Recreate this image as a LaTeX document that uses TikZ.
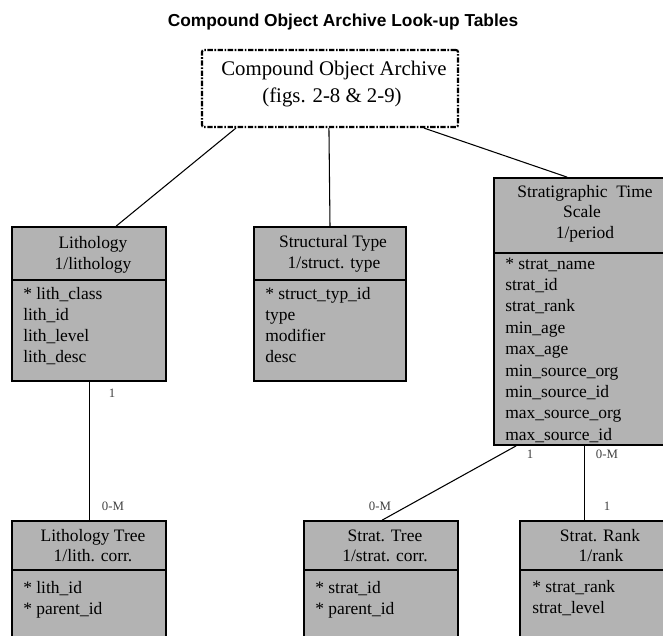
\documentclass[tikz,border=0pt]{standalone}
\usepackage{fontspec}
\setmainfont{Liberation Serif}
\newfontfamily\titlefont{Liberation Sans}
\usetikzlibrary{calc,fit}

\definecolor{boxgray}{RGB}{179,179,179}

\tikzset{
  entity/.style={draw=black, line width=1.3pt, fill=boxgray, inner sep=0pt},
  archive/.style={draw=black, line width=1.6pt, rounded corners=1.5pt,
    dash pattern=on 4pt off 1.2pt on 1.2pt off 1.2pt, inner sep=0pt},
  divider/.style={draw=black, line width=1.3pt},
  link/.style={draw=black, line width=0.8pt},
  head/.style={anchor=base, inner sep=0pt, font=\fontsize{13.1}{16}\selectfont},
  field/.style={anchor=base west, inner sep=0pt, font=\fontsize{13.1}{16}\selectfont},
  archtext/.style={anchor=base, inner sep=0pt, font=\fontsize{15.6}{19}\selectfont},
  card/.style={anchor=base, inner sep=0pt, text=black!75, font=\fontsize{9.6}{11}\selectfont},
  heading/.style={anchor=base, inner sep=0pt, font=\titlefont\bfseries\fontsize{13}{16}\selectfont}
}

\begin{document}
\begin{tikzpicture}[x=0.75pt,y=-0.75pt]
\clip (0,0) rectangle (663,635);

% title
\node[heading] (title) at (343,27) {Compound Object Archive Look-up Tables};

% archive box
\node[archive, fit={(202,50)(458,127)}] (coa) {};
\node[archtext] (coa1) at (334,75) {Compound Object Archive};
\node[archtext] (coa2) at (332,102) {(figs. 2-8 \& 2-9)};

% entity boxes
\node[entity, fit={(12,227)(166,381)}] (lith) {};
\node[entity, fit={(254,227)(406,381)}] (struct) {};
\node[entity, fit={(494,178)(672,445)}] (strat) {};
\node[entity, fit={(12,521)(166,660)}] (lithtree) {};
\node[entity, fit={(304,521)(458,660)}] (strattree) {};
\node[entity, fit={(520,521)(682,660)}] (stratrank) {};

% header / body dividers
\draw[divider] ($(lith.north west)+(0,54)$) -- ($(lith.north east)+(0,54)$);
\draw[divider] ($(struct.north west)+(0,54)$) -- ($(struct.north east)+(0,54)$);
\draw[divider] ($(strat.north west)+(0,76)$) -- ($(strat.north east)+(0,76)$);
\draw[divider] ($(lithtree.north west)+(0,50)$) -- ($(lithtree.north east)+(0,50)$);
\draw[divider] ($(strattree.north west)+(0,50)$) -- ($(strattree.north east)+(0,50)$);
\draw[divider] ($(stratrank.north west)+(0,50)$) -- ($(stratrank.north east)+(0,50)$);

% Lithology
\node[head] (lithh1) at (93,248) {Lithology};
\node[head] (lithh2) at (93,269) {1/lithology};
\foreach \t [count=\i] in {* lith\_class, lith\_id, lith\_level, lith\_desc}
  \node[field] (lithf\i) at (23,{299+21.3*(\i-1)}) {\t};

% Structural Type
\node[head] (structh1) at (333,247) {Structural Type};
\node[head] (structh2) at (334,268) {1/struct. type};
\foreach \t [count=\i] in {* struct\_typ\_id, type, modifier, desc}
  \node[field] (structf\i) at (265,{299+21.3*(\i-1)}) {\t};

% Stratigraphic Time Scale
\node[head] (strath1) at (585,197) {Stratigraphic\ \ Time};
\node[head] (strath2) at (582,217) {Scale};
\node[head] (strath3) at (585,238) {1/period};
\foreach \t [count=\i] in {* strat\_name, strat\_id, strat\_rank, min\_age, max\_age,
    min\_source\_org, min\_source\_id, max\_source\_org, max\_source\_id}
  \node[field] (stratf\i) at (505,{269+21.4*(\i-1)}) {\t};

% Lithology Tree
\node[head] (lithtreeh1) at (93,541) {Lithology Tree};
\node[head] (lithtreeh2) at (93,561) {1/lith. corr.};
\node[field] (lithtreef1) at (23,593) {* lith\_id};
\node[field] (lithtreef2) at (23,614) {* parent\_id};

% Strat. Tree
\node[head] (strattreeh1) at (385,541) {Strat. Tree};
\node[head] (strattreeh2) at (385,561) {1/strat. corr.};
\node[field] (strattreef1) at (315,593) {* strat\_id};
\node[field] (strattreef2) at (315,614) {* parent\_id};

% Strat. Rank
\node[head] (stratrankh1) at (600,541) {Strat. Rank};
\node[head] (stratrankh2) at (601,561) {1/rank};
\node[field] (stratrankf1) at (532,592) {* strat\_rank};
\node[field] (stratrankf2) at (532,613) {strat\_level};

% connectors
\draw[link] ($(coa.south west)+(35,0)$) -- ($(lith.north west)+(105,0)$);
\draw[link] ($(coa.south west)+(128,0)$) -- (struct.north);
\draw[link] ($(coa.south west)+(223,0)$) -- ($(strat.north west)+(74,0)$);
\draw[link] ($(lith.south west)+(78,0)$) -- ($(lithtree.north west)+(78,0)$);
\draw[link] ($(strat.south west)+(23,0)$) -- ($(strattree.north west)+(79,0)$);
\draw[link] ($(strat.south west)+(91,0)$) -- ($(stratrank.north west)+(65,0)$);

% cardinalities
\node[card] (c1) at (112,397) {1};
\node[card] (c2) at (113,510) {0-M};
\node[card] (c3) at (530,458) {1};
\node[card] (c4) at (380,510) {0-M};
\node[card] (c5) at (607,458) {0-M};
\node[card] (c6) at (607,510) {1};
\end{tikzpicture}
\end{document}
